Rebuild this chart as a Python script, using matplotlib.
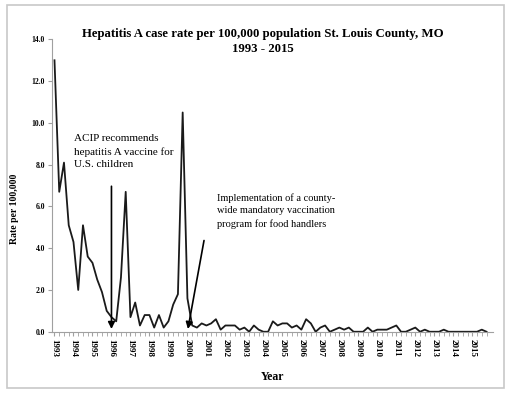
import numpy as np
import matplotlib.pyplot as plt
from matplotlib.patches import Rectangle

plt.rcParams['font.family'] = ['Liberation Serif', 'DejaVu Serif']

years = list(range(1993, 2016))
# quarterly rates per 100,000, 1993 Q1 .. 2015 Q4
rate = [13.0, 6.7, 8.1, 5.1,
        4.3, 2.0, 5.1, 3.6,
        3.3, 2.5, 1.9, 1.0,
        0.7, 0.5, 2.6, 6.7,
        0.7, 1.4, 0.3, 0.8,
        0.8, 0.2, 0.8, 0.2,
        0.5, 1.3, 1.8, 10.5,
        1.6, 0.3, 0.2, 0.4,
        0.3, 0.4, 0.6, 0.1,
        0.3, 0.3, 0.3, 0.1,
        0.2, 0.0, 0.3, 0.1,
        0.0, 0.0, 0.5, 0.3,
        0.4, 0.4, 0.2, 0.3,
        0.1, 0.6, 0.4, 0.0,
        0.2, 0.3, 0.0, 0.1,
        0.2, 0.1, 0.2, 0.0,
        0.0, 0.0, 0.2, 0.0,
        0.1, 0.1, 0.1, 0.2,
        0.3, 0.0, 0.0, 0.1,
        0.2, 0.0, 0.1, 0.0,
        0.0, 0.0, 0.1, 0.0,
        0.0, 0.0, 0.0, 0.0,
        0.0, 0.0, 0.1, 0.0]
xq = 1993 + np.arange(len(rate)) / 4

fig = plt.figure(figsize=(5.1, 3.94), dpi=100)
fig.patches.append(Rectangle((0.014, 0.015), 0.974, 0.972, transform=fig.transFigure,
                             fill=False, edgecolor='#c8c8c8', linewidth=1.2))
ax = fig.add_axes([0.102, 0.158, 0.865, 0.742])

ax.plot(xq, rate, color='#1a1a1a', linewidth=1.3)

ax.set_xlim(1992.87, 2016.1)
ax.set_ylim(0, 14)
ax.set_yticks(np.arange(0, 14.1, 2))
ax.set_yticklabels(['%.1f' % v for v in np.arange(0, 14.1, 2)], fontsize=5.5, fontweight='bold')
ax.set_xticks(years)
ax.set_xticklabels([str(y) for y in years], rotation=-90, fontsize=6.5, fontweight='bold')
ax.set_xticks(xq, minor=True)
ax.tick_params(axis='x', which='both', length=3, color='#a0a0a0', pad=2)
ax.tick_params(axis='y', length=3, color='#a0a0a0', pad=2)

for s in ['top', 'right']:
    ax.spines[s].set_visible(False)
ax.spines['left'].set_color('#a0a0a0')
ax.spines['bottom'].set_color('#a0a0a0')

ax.set_ylabel('Rate per 100,000', fontsize=7, fontweight='bold')
ax.yaxis.set_label_coords(-0.075, 0.42)
ax.set_xlabel('Year', fontsize=8.5, fontweight='bold', labelpad=10)

fig.text(0.515, 0.895, 'Hepatitis A case rate per 100,000 population St. Louis County, MO\n1993 - 2015',
         ha='center', va='center', fontsize=9.2, fontweight='bold', linespacing=1.4)

ax.text(1994.05, 9.45, 'ACIP recommends\nhepatitis A vaccine for\nU.S. children',
        fontsize=8, va='top', ha='left', linespacing=1.45)
ax.text(2001.55, 6.65, 'Implementation of a county-\nwide mandatory vaccination\nprogram for food handlers',
        fontsize=7.5, va='top', ha='left', linespacing=1.5)

ax.annotate('', xy=(1996.0, 0.0), xytext=(1996.0, 7.1),
            arrowprops=dict(arrowstyle='-|>', color='black', lw=1.2, mutation_scale=10))
ax.annotate('', xy=(2000.0, 0.0), xytext=(2000.9, 4.5),
            arrowprops=dict(arrowstyle='-|>', color='black', lw=1.2, mutation_scale=10))

fig.savefig('out.png', dpi=100)
